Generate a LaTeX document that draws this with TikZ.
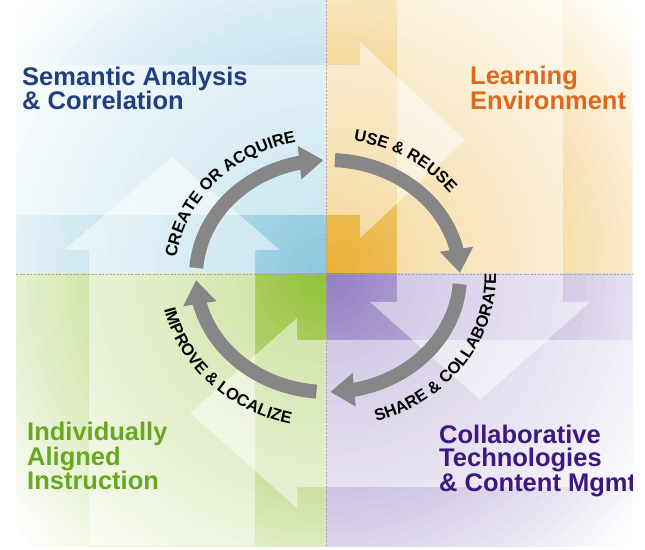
\documentclass[tikz,border=0pt]{standalone}
\usepackage{fontspec}
\setmainfont{Liberation Sans}
\usetikzlibrary{arrows.meta,bending,calc,decorations.text}

% quadrant tints
\definecolor{qblue}{HTML}{8CC7DE}
\definecolor{qorange}{HTML}{E9B033}
\definecolor{qpurple}{HTML}{9580C2}
\definecolor{qgreen}{HTML}{95C23A}
% heading colours
\definecolor{tblue}{HTML}{1F3F7E}
\definecolor{torange}{HTML}{DD6A1C}
\definecolor{tgreen}{HTML}{68A820}
\definecolor{tpurple}{HTML}{3E1880}
\definecolor{cyclegray}{HTML}{868686}

\newcommand\curvefont{\bfseries\fontsize{16.5}{16.5}\selectfont}

% a tinted quadrant: rings of colour that fade to white away from the hub
\newcommand\tintquadrant[2]{%
  \begin{scope}
    \clip #1;
    \foreach \k in {0,...,40}{
      \pgfmathsetmacro\ringr{410-10*\k}
      \pgfmathsetmacro\ringp{2.5*\k}
      \fill[#2!\ringp!white] (326,275) circle (\ringr);
    }
  \end{scope}}

\tikzset{
  headline/.style={anchor=base west, inner sep=0pt, font=\bfseries\fontsize{25.5}{25.5}\selectfont},
  ghost/.style={fill=white, fill opacity=0.5},
  divider/.style={draw=gray!70, line width=0.8pt, dash pattern=on 2pt off 1.6pt},
  cyclearrow/.style={draw=cyclegray, line width=14pt, line cap=butt,
    -{Triangle[length=24pt,width=32pt]}},
  along/.style={decorate, decoration={text along path, text align=center,
    text={|\curvefont|#1}}}
}

\begin{document}
\begin{tikzpicture}[x=1pt,y=1pt]
\useasboundingbox (0,0) rectangle (645,549);

% ---- four tinted quadrants ----
\tintquadrant{(16,275) rectangle (326,549)}{qblue}
\tintquadrant{(326,275) rectangle (632,549)}{qorange}
\tintquadrant{(16,3) rectangle (326,275)}{qgreen}
\tintquadrant{(326,3) rectangle (632,275)}{qpurple}

% ---- large pale arrows behind the cycle ----
% up
\fill[ghost] (89,3) -- (89,299) -- (64,299) -- (172,392) -- (280,299)
  -- (255,299) -- (255,3) -- cycle;
% right
\fill[ghost] (16,334) -- (360,334) -- (360,311) -- (465,409) -- (360,507)
  -- (360,484) -- (16,484) -- cycle;
% down
\fill[ghost] (397,549) -- (397,247) -- (370,247) -- (480,149) -- (590,247)
  -- (563,247) -- (563,549) -- cycle;
% left
\fill[ghost] (632,209) -- (297,209) -- (297,231) -- (190,136) -- (297,41)
  -- (297,62) -- (632,62) -- cycle;

% ---- dotted quadrant dividers ----
\coordinate (vtop) at (326,549);
\coordinate (vbot) at (326,3);
\coordinate (hleft) at (16,275);
\coordinate (hright) at (632,275);
\draw[divider] (vtop) -- (vbot);
\draw[divider] (hleft) -- (hright);

% ---- quadrant headings ----
\begin{scope}
  \clip (16,3) rectangle (632,549);
  \node[headline, text=tblue] (sem1) at (22,463) {Semantic Analysis};
  \node[headline, text=tblue] (sem2) at (22,439) {\& Correlation};
  \node[headline, text=torange] (lrn1) at (470,464) {Learning};
  \node[headline, text=torange] (lrn2) at (470,439) {Environment};
  \node[headline, text=tgreen] (ind1) at (27,108) {Individually};
  \node[headline, text=tgreen] (ind2) at (27,84) {Aligned};
  \node[headline, text=tgreen] (ind3) at (27,60) {Instruction};
  \node[headline, text=tpurple] (col1) at (439,106) {Collaborative};
  \node[headline, text=tpurple] (col2) at (439,82) {Technologies};
  \node[headline, text=tpurple] (col3) at (439,58) {\& Content Mgmt};
\end{scope}

% ---- the cycle ----
\coordinate (hub) at (328,273);
\coordinate (create-tail) at ($(hub)+(176:132 and 116)$);
\coordinate (use-tail) at ($(hub)+(87:132 and 116)$);
\coordinate (share-tail) at ($(hub)+(-4:132 and 116)$);
\coordinate (improve-tail) at ($(hub)+(-95:132 and 116)$);

\draw[cyclearrow] (create-tail) arc[start angle=176, end angle=92, x radius=132, y radius=116];
\draw[cyclearrow] (use-tail) arc[start angle=87, end angle=1.5, x radius=132, y radius=116];
\draw[cyclearrow] (share-tail) arc[start angle=-4, end angle=-89, x radius=132, y radius=116];
\draw[cyclearrow] (improve-tail) arc[start angle=-95, end angle=-178, x radius=132, y radius=116];

% ---- stage labels set along the cycle ----
\path[along={CREATE OR ACQUIRE}] ($(hub)+(188:153 and 137)$)
  arc[start angle=188, end angle=88, x radius=153, y radius=137];
\path[along={USE {\&} REUSE}] ($(hub)+(107.5:153 and 137)$)
  arc[start angle=107.5, end angle=7.5, x radius=153, y radius=137];
\path[along={SHARE {\&} COLLABORATE}] ($(hub)+(-85.5:168 and 152)$)
  arc[start angle=-85.5, end angle=14.5, x radius=168, y radius=152];
\path[along={IMPROVE {\&} LOCALIZE}] ($(hub)+(174:168 and 152)$)
  arc[start angle=174, end angle=274, x radius=168, y radius=152];
\end{tikzpicture}
\end{document}
